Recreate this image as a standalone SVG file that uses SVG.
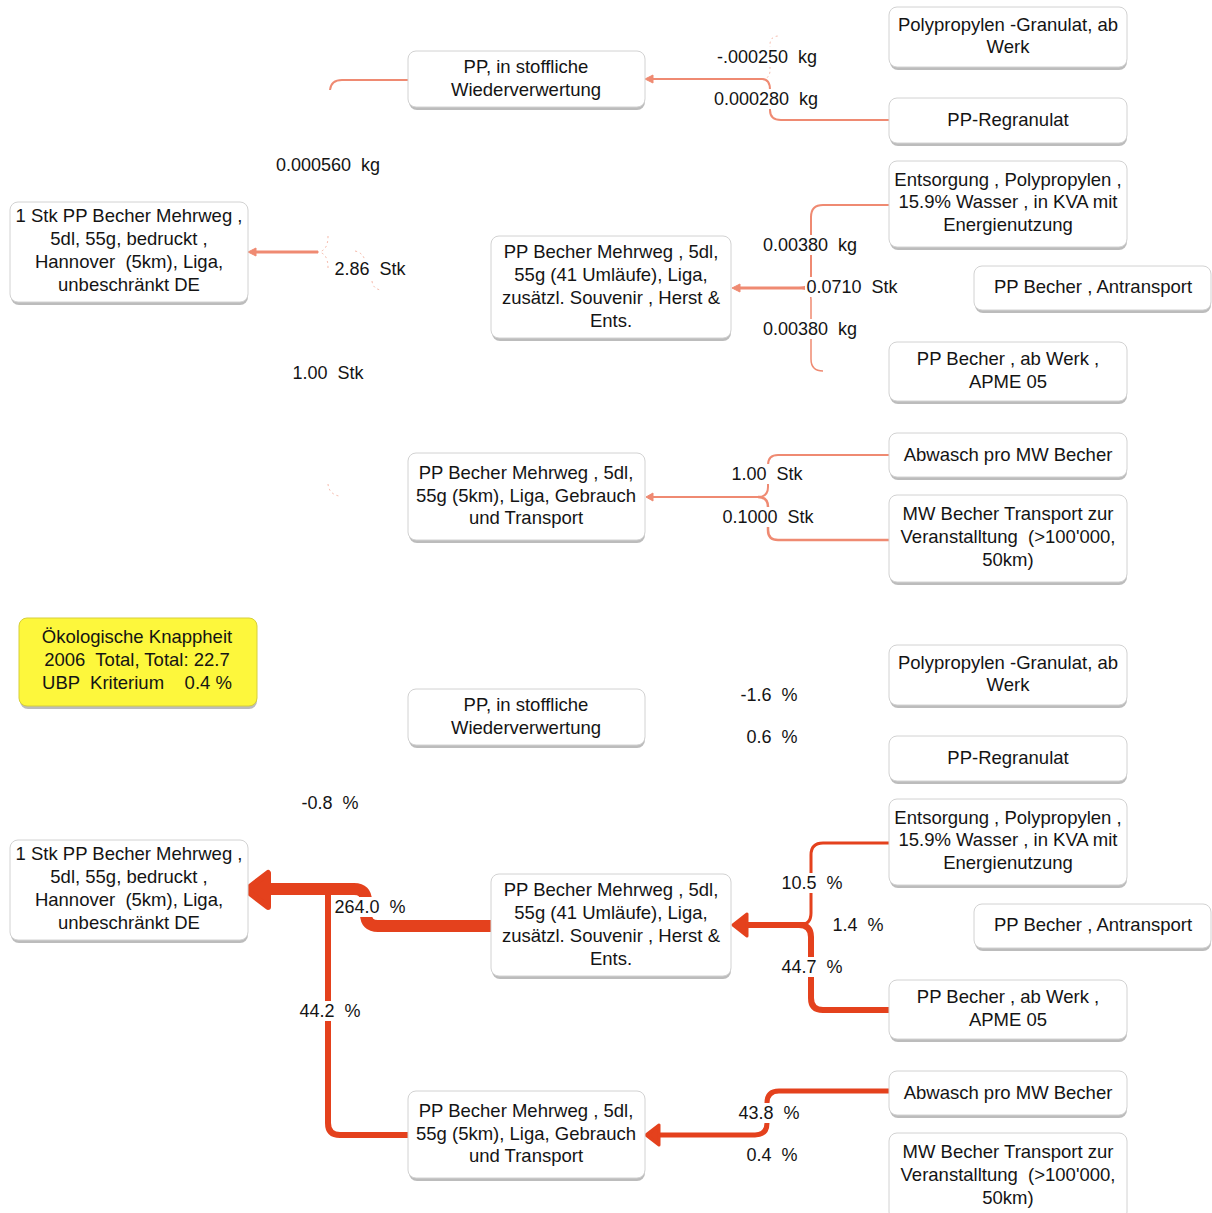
<svg xmlns="http://www.w3.org/2000/svg" width="1212" height="1213" viewBox="0 0 1212 1213">
<style>
.sh{fill:#bcbcbc}
.box{fill:#fff;stroke:#d2d2d2;stroke-width:1}
.ybox{fill:#fdf73c;stroke:#d6cf3a;stroke-width:1}
.t{font-family:"Liberation Sans",Arial,sans-serif;font-size:18.5px;fill:#141414;text-anchor:middle;white-space:pre}
.l{font-family:"Liberation Sans",Arial,sans-serif;font-size:18px;fill:#141414;text-anchor:middle;white-space:pre}
.bg{fill:#fff}
.thin{fill:none;stroke:#ef8a72}
.faint{fill:none;stroke:#ef8a72;stroke-width:1;opacity:0.6;stroke-dasharray:2 3}
.thick{fill:none;stroke:#e4411d}
.ah1{fill:#ef8a72;stroke:#ef8a72;stroke-width:1;stroke-linejoin:round}
.ah2{fill:#e4411d;stroke:#e4411d;stroke-linejoin:round}
</style>
<rect width="1212" height="1213" fill="#fff"/>
<g id="connectors">
  <path class="thin" stroke-width="2" d="M408 80 H342 Q331 80 330 90"/>
  <path class="thin" stroke-width="2" d="M762 79 H651"/>
  <polygon class="ah1" points="645,79 653,75 653,83"/>
  <path class="faint" d="M762 79 Q770 79 770 70 V45 Q770 36 779 36"/>
  <path class="thin" stroke-width="2" d="M762 79 Q770 79 770 90 V110 Q770 120 781 120 H889"/>
  <path class="thin" stroke-width="3" d="M318 252 H254"/>
  <polygon class="ah1" points="248,252 256,248 256,256"/>
  <path class="faint" d="M328 236 Q328 251 318 252"/>
  <path class="faint" d="M328 268 Q328 253 318 252"/>
  <path class="faint" d="M355 251 Q364 253 365 262"/>
  <path class="faint" d="M372 281 Q373 289 381 290"/>
  <path class="faint" d="M328 484 Q329 494 339 496"/>
  <path class="thin" stroke-width="2" d="M889 205 H823 Q811 205 811 217 V276 Q811 288 799 288"/>
  <path class="thin" stroke-width="3" d="M806 288 H739"/>
  <polygon class="ah1" points="732,288 740,284 740,292"/>
  <path class="thin" stroke-width="1.5" d="M799 288 Q811 288 811 300 V359 Q811 371 823 371"/>
  <path class="thin" stroke-width="2" d="M889 455 H778 Q768 455 768 465 V487 Q768 497 758 497"/>
  <path class="thin" stroke-width="2" d="M762 497 H652"/>
  <polygon class="ah1" points="646,497 653,493 653,501"/>
  <path class="thin" stroke-width="2.5" d="M758 497 Q768 497 768 507 V530 Q768 540 778 540 H889"/>
  <path class="thick" stroke-width="12" d="M493 926 H378 Q366 926 366 914 V901 Q366 889 354 889 H262"/>
  <polygon class="ah2" stroke-width="6" points="246,890 268,873 268,907"/>
  <path class="thick" stroke-width="6" d="M328 893 V1123 Q328 1135 340 1135 H408"/>
  <path class="thick" stroke-width="6" d="M805 925 H742"/>
  <polygon class="ah2" stroke-width="3" points="733,925 747,914 747,936"/>
  <path class="thick" stroke-width="3" d="M889 843 H823 Q811 843 811 855 V913 Q811 925 799 925"/>
  <path class="thick" stroke-width="6" d="M799 925 Q811 925 811 937 V998 Q811 1010 823 1010 H889"/>
  <path class="thick" stroke-width="5" d="M889 1091 H779 Q767 1091 767 1103 V1123 Q767 1135 755 1135 H656"/>
  <polygon class="ah2" stroke-width="3" points="646,1135 659,1125 659,1145"/>
</g>
<g id="labels">
  <rect class="bg" x="716" y="47" width="102" height="20"/><text class="l" x="767" y="63">-.000250  kg</text>
  <rect class="bg" x="714" y="89" width="105" height="20"/><text class="l" x="766" y="105">0.000280  kg</text>
  <rect class="bg" x="274" y="155" width="108" height="20"/><text class="l" x="328" y="171">0.000560  kg</text>
  <rect class="bg" x="334" y="259" width="72" height="20"/><text class="l" x="370" y="275">2.86  Stk</text>
  <rect class="bg" x="292" y="363" width="72" height="20"/><text class="l" x="328" y="379">1.00  Stk</text>
  <rect class="bg" x="761" y="235" width="97" height="20"/><text class="l" x="810" y="251">0.00380  kg</text>
  <rect class="bg" x="805" y="277" width="94" height="20"/><text class="l" x="852" y="293">0.0710  Stk</text>
  <rect class="bg" x="761" y="319" width="97" height="20"/><text class="l" x="810" y="335">0.00380  kg</text>
  <rect class="bg" x="731" y="464" width="72" height="20"/><text class="l" x="767" y="480">1.00  Stk</text>
  <rect class="bg" x="721" y="507" width="93" height="20"/><text class="l" x="768" y="523">0.1000  Stk</text>
  <rect class="bg" x="740" y="685" width="58" height="20"/><text class="l" x="769" y="701">-1.6  %</text>
  <rect class="bg" x="747" y="727" width="51" height="20"/><text class="l" x="772" y="743">0.6  %</text>
  <rect class="bg" x="301" y="793" width="58" height="20"/><text class="l" x="330" y="809">-0.8  %</text>
  <rect class="bg" x="333" y="897" width="73" height="20"/><text class="l" x="370" y="913">264.0  %</text>
  <rect class="bg" x="299" y="1001" width="61" height="20"/><text class="l" x="330" y="1017">44.2  %</text>
  <rect class="bg" x="782" y="873" width="60" height="20"/><text class="l" x="812" y="889">10.5  %</text>
  <rect class="bg" x="834" y="915" width="49" height="20"/><text class="l" x="858" y="931">1.4  %</text>
  <rect class="bg" x="782" y="957" width="60" height="20"/><text class="l" x="812" y="973">44.7  %</text>
  <rect class="bg" x="738" y="1103" width="63" height="20"/><text class="l" x="769" y="1119">43.8  %</text>
  <rect class="bg" x="747" y="1145" width="51" height="20"/><text class="l" x="772" y="1161">0.4  %</text>
</g>
<g id="t-pp-stoff"><rect class="sh" x="409" y="54" width="236" height="56" rx="8"/><rect class="box" x="408" y="51" width="237" height="56" rx="8"/><text class="t" x="526" y="73">PP, in stoffliche</text><text class="t" x="526" y="96">Wiederverwertung</text></g>
<g id="t-pp-granulat"><rect class="sh" x="890" y="10" width="237" height="60" rx="8"/><rect class="box" x="889" y="7" width="238" height="60" rx="8"/><text class="t" x="1008" y="31">Polypropylen -Granulat, ab</text><text class="t" x="1008" y="53">Werk</text></g>
<g id="t-pp-regranulat"><rect class="sh" x="890" y="101" width="237" height="45" rx="8"/><rect class="box" x="889" y="98" width="238" height="45" rx="8"/><text class="t" x="1008" y="126">PP-Regranulat</text></g>
<g id="t-1stk"><rect class="sh" x="11" y="205" width="237" height="100" rx="8"/><rect class="box" x="10" y="202" width="238" height="100" rx="8"/><text class="t" x="129" y="222">1 Stk PP Becher Mehrweg ,</text><text class="t" x="129" y="245">5dl, 55g, bedruckt ,</text><text class="t" x="129" y="268">Hannover  (5km), Liga,</text><text class="t" x="129" y="291">unbeschränkt DE</text></g>
<g id="t-41"><rect class="sh" x="492" y="239" width="239" height="102" rx="8"/><rect class="box" x="491" y="236" width="240" height="102" rx="8"/><text class="t" x="611" y="258">PP Becher Mehrweg , 5dl,</text><text class="t" x="611" y="281">55g (41 Umläufe), Liga,</text><text class="t" x="611" y="304">zusätzl. Souvenir , Herst &amp;</text><text class="t" x="611" y="327">Ents.</text></g>
<g id="t-entsorgung"><rect class="sh" x="890" y="164" width="237" height="86" rx="8"/><rect class="box" x="889" y="161" width="238" height="86" rx="8"/><text class="t" x="1008" y="186">Entsorgung , Polypropylen ,</text><text class="t" x="1008" y="208">15.9% Wasser , in KVA mit</text><text class="t" x="1008" y="231">Energienutzung</text></g>
<g id="t-antransport"><rect class="sh" x="975" y="269" width="236" height="44" rx="8"/><rect class="box" x="974" y="266" width="237" height="44" rx="8"/><text class="t" x="1093" y="293">PP Becher , Antransport</text></g>
<g id="t-abwerk"><rect class="sh" x="890" y="345" width="237" height="59" rx="8"/><rect class="box" x="889" y="342" width="238" height="59" rx="8"/><text class="t" x="1008" y="365">PP Becher , ab Werk ,</text><text class="t" x="1008" y="388">APME 05</text></g>
<g id="t-5km"><rect class="sh" x="409" y="456" width="236" height="87" rx="8"/><rect class="box" x="408" y="453" width="237" height="87" rx="8"/><text class="t" x="526" y="479">PP Becher Mehrweg , 5dl,</text><text class="t" x="526" y="502">55g (5km), Liga, Gebrauch</text><text class="t" x="526" y="524">und Transport</text></g>
<g id="t-abwasch"><rect class="sh" x="890" y="436" width="237" height="44" rx="8"/><rect class="box" x="889" y="433" width="238" height="44" rx="8"/><text class="t" x="1008" y="461">Abwasch pro MW Becher</text></g>
<g id="t-mwtransport"><rect class="sh" x="890" y="498" width="237" height="87" rx="8"/><rect class="box" x="889" y="495" width="238" height="87" rx="8"/><text class="t" x="1008" y="520">MW Becher Transport zur</text><text class="t" x="1008" y="543">Veranstalltung  (&gt;100'000,</text><text class="t" x="1008" y="566">50km)</text></g>
<g id="legend"><rect class="sh" x="20" y="621" width="237" height="88" rx="8"/><rect class="ybox" x="19" y="618" width="238" height="88" rx="8"/><text class="t" x="137" y="643">Ökologische Knappheit</text><text class="t" x="137" y="666">2006  Total, Total: 22.7</text><text class="t" x="137" y="689">UBP  Kriterium    0.4 %</text></g>
<g id="b-pp-stoff"><rect class="sh" x="409" y="692" width="236" height="56" rx="8"/><rect class="box" x="408" y="689" width="237" height="56" rx="8"/><text class="t" x="526" y="711">PP, in stoffliche</text><text class="t" x="526" y="734">Wiederverwertung</text></g>
<g id="b-pp-granulat"><rect class="sh" x="890" y="648" width="237" height="60" rx="8"/><rect class="box" x="889" y="645" width="238" height="60" rx="8"/><text class="t" x="1008" y="669">Polypropylen -Granulat, ab</text><text class="t" x="1008" y="691">Werk</text></g>
<g id="b-pp-regranulat"><rect class="sh" x="890" y="739" width="237" height="45" rx="8"/><rect class="box" x="889" y="736" width="238" height="45" rx="8"/><text class="t" x="1008" y="764">PP-Regranulat</text></g>
<g id="b-1stk"><rect class="sh" x="11" y="843" width="237" height="100" rx="8"/><rect class="box" x="10" y="840" width="238" height="100" rx="8"/><text class="t" x="129" y="860">1 Stk PP Becher Mehrweg ,</text><text class="t" x="129" y="883">5dl, 55g, bedruckt ,</text><text class="t" x="129" y="906">Hannover  (5km), Liga,</text><text class="t" x="129" y="929">unbeschränkt DE</text></g>
<g id="b-41"><rect class="sh" x="492" y="877" width="239" height="102" rx="8"/><rect class="box" x="491" y="874" width="240" height="102" rx="8"/><text class="t" x="611" y="896">PP Becher Mehrweg , 5dl,</text><text class="t" x="611" y="919">55g (41 Umläufe), Liga,</text><text class="t" x="611" y="942">zusätzl. Souvenir , Herst &amp;</text><text class="t" x="611" y="965">Ents.</text></g>
<g id="b-entsorgung"><rect class="sh" x="890" y="802" width="237" height="86" rx="8"/><rect class="box" x="889" y="799" width="238" height="86" rx="8"/><text class="t" x="1008" y="824">Entsorgung , Polypropylen ,</text><text class="t" x="1008" y="846">15.9% Wasser , in KVA mit</text><text class="t" x="1008" y="869">Energienutzung</text></g>
<g id="b-antransport"><rect class="sh" x="975" y="907" width="236" height="44" rx="8"/><rect class="box" x="974" y="904" width="237" height="44" rx="8"/><text class="t" x="1093" y="931">PP Becher , Antransport</text></g>
<g id="b-abwerk"><rect class="sh" x="890" y="983" width="237" height="59" rx="8"/><rect class="box" x="889" y="980" width="238" height="59" rx="8"/><text class="t" x="1008" y="1003">PP Becher , ab Werk ,</text><text class="t" x="1008" y="1026">APME 05</text></g>
<g id="b-5km"><rect class="sh" x="409" y="1094" width="236" height="87" rx="8"/><rect class="box" x="408" y="1091" width="237" height="87" rx="8"/><text class="t" x="526" y="1117">PP Becher Mehrweg , 5dl,</text><text class="t" x="526" y="1140">55g (5km), Liga, Gebrauch</text><text class="t" x="526" y="1162">und Transport</text></g>
<g id="b-abwasch"><rect class="sh" x="890" y="1074" width="237" height="44" rx="8"/><rect class="box" x="889" y="1071" width="238" height="44" rx="8"/><text class="t" x="1008" y="1099">Abwasch pro MW Becher</text></g>
<g id="b-mwtransport"><rect class="sh" x="890" y="1136" width="237" height="87" rx="8"/><rect class="box" x="889" y="1133" width="238" height="87" rx="8"/><text class="t" x="1008" y="1158">MW Becher Transport zur</text><text class="t" x="1008" y="1181">Veranstalltung  (&gt;100'000,</text><text class="t" x="1008" y="1204">50km)</text></g>
</svg>
